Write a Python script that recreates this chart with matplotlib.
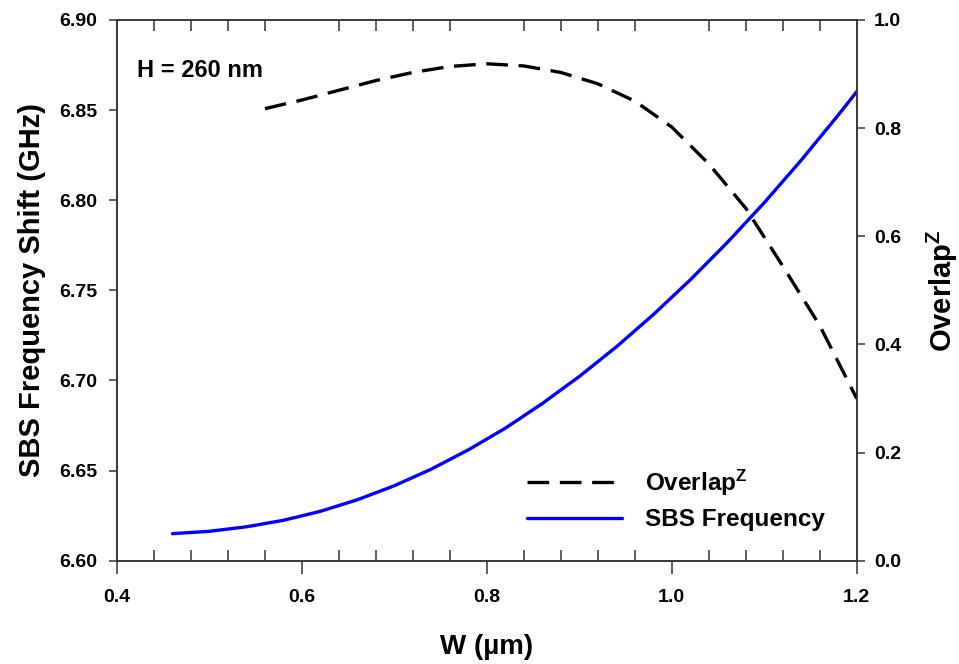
import matplotlib
matplotlib.use("Agg")
import matplotlib.pyplot as plt
from matplotlib.ticker import MultipleLocator, FixedLocator

plt.rcParams['font.family'] = ['Liberation Sans', 'DejaVu Sans']
plt.rcParams['font.weight'] = 'bold'
plt.rcParams['mathtext.fontset'] = 'custom'
plt.rcParams['mathtext.rm'] = 'Liberation Sans:bold'
plt.rcParams['mathtext.it'] = 'Liberation Sans:bold'
plt.rcParams['mathtext.bf'] = 'Liberation Sans:bold'

# ---- data ----
w_sbs = [0.46, 0.50, 0.54, 0.58, 0.62, 0.66, 0.70, 0.74, 0.78, 0.82, 0.86,
         0.90, 0.94, 0.98, 1.02, 1.06, 1.10, 1.14, 1.18, 1.20]
sbs_freq = [6.6150, 6.6163, 6.6188, 6.6224, 6.6274, 6.6338, 6.6416, 6.6508,
            6.6615, 6.6735, 6.6872, 6.7022, 6.7186, 6.7365, 6.7558, 6.7765,
            6.7986, 6.8222, 6.8472, 6.8602]

w_ov = [0.56, 0.60, 0.64, 0.68, 0.72, 0.76, 0.80, 0.84, 0.88, 0.92, 0.96,
        1.00, 1.04, 1.08, 1.12, 1.16, 1.20]
overlap = [0.836, 0.852, 0.870, 0.888, 0.903, 0.914, 0.919, 0.915, 0.903,
           0.882, 0.850, 0.802, 0.734, 0.652, 0.545, 0.435, 0.300]

x_ticks = [0.4, 0.6, 0.8, 1.0, 1.2]
y_left_ticks = [6.60, 6.65, 6.70, 6.75, 6.80, 6.85, 6.90]
y_right_ticks = [0.0, 0.2, 0.4, 0.6, 0.8, 1.0]

fig = plt.figure(figsize=(9.59, 6.64), dpi=100)
ax = fig.add_axes([0.122, 0.1556, 0.7713, 0.8143])
ax2 = ax.twinx()

spine_c = '#333333'
for a in (ax, ax2):
    for s in a.spines.values():
        s.set_color(spine_c)
        s.set_linewidth(1.1)

l2, = ax.plot(w_sbs, sbs_freq, color='#0000ff', lw=2.4, label='SBS Frequency',
              solid_capstyle='round')
l1, = ax2.plot(w_ov, overlap, color='black', lw=2.4, label='Overlap$^{Z}$')
l1.set_dashes((6.5, 3.2))

ax.set_xlim(0.4, 1.2)
ax.set_ylim(6.60, 6.90)
ax2.set_ylim(0.0, 1.0)

ax.xaxis.set_major_locator(FixedLocator(x_ticks))
ax.xaxis.set_minor_locator(MultipleLocator(0.04))
ax.set_yticks(y_left_ticks)
ax.set_yticklabels(['%.2f' % v for v in y_left_ticks])
ax2.set_yticks(y_right_ticks)
ax2.set_yticklabels(['%.1f' % v for v in y_right_ticks])
ax.set_xticklabels(['%.1f' % v for v in x_ticks])

ax.tick_params(axis='x', which='major', direction='out', length=9.5, width=1.1,
               pad=11, labelsize=14, colors=spine_c, labelcolor='black')
ax.tick_params(axis='x', which='minor', direction='in', length=8, width=1.1,
               top=True, bottom=True, colors=spine_c)
ax.tick_params(axis='y', which='major', direction='out', length=5.5, width=1.1,
               pad=8.5, labelsize=14, colors=spine_c, labelcolor='black')
ax2.tick_params(axis='y', which='major', direction='out', length=5.5, width=1.1,
                pad=7, labelsize=14, colors=spine_c, labelcolor='black')

ax.set_xlabel('W (µm)', fontsize=20, fontweight='bold', labelpad=20)
ax.set_ylabel('SBS Frequency Shift (GHz)', fontsize=21, fontweight='bold', labelpad=10)
ax2.set_ylabel('Overlap$^{Z}$', fontsize=21, fontweight='bold', labelpad=17)

ax.text(0.027, 0.906, 'H = 260 nm', transform=ax.transAxes, fontsize=17,
        fontweight='bold', va='center', ha='left')

leg = ax.legend([l1, l2], ['Overlap$^{Z}$', 'SBS Frequency'],
                loc='upper left', bbox_to_anchor=(0.554, 0.172),
                frameon=False, fontsize=17.5, handlelength=3.9,
                handletextpad=0.95, labelspacing=0.42, borderpad=0,
                borderaxespad=0)
for t in leg.get_texts():
    t.set_fontweight('bold')

fig.savefig('out.png', dpi=100)
